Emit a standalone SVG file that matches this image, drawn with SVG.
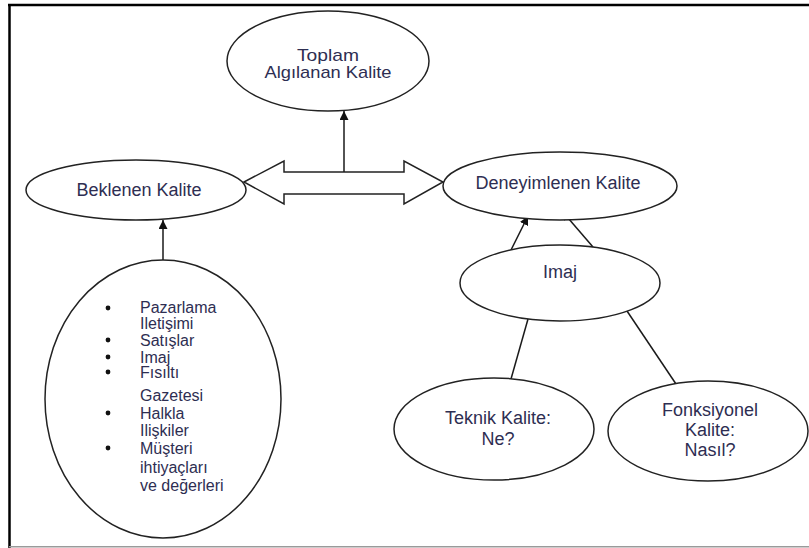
<svg xmlns="http://www.w3.org/2000/svg" width="809" height="548" viewBox="0 0 809 548">
  <style>
    .node ellipse { fill: #ffffff; stroke: #222222; stroke-width: 1.5; }
    .lbl { font-family: "Liberation Sans", Arial, sans-serif; font-size: 18px; fill: #2e2e52; text-anchor: middle; }
    .lbl2 { font-family: "Liberation Sans", Arial, sans-serif; font-size: 17px; fill: #2e2e52; text-anchor: middle; }
    .lst { font-family: "Liberation Sans", Arial, sans-serif; font-size: 16px; fill: #2e2e52; }
    .conn line { stroke: #1a1a1a; stroke-width: 1.5; }
    .dbl { fill: #ffffff; stroke: #222222; stroke-width: 1.5; stroke-linejoin: miter; }
  </style>
  <defs>
    <marker id="head" viewBox="0 0 10 10" refX="10" refY="5" markerWidth="9" markerHeight="9" markerUnits="userSpaceOnUse" orient="auto">
      <path d="M0,0 L10,5 L0,10 z" fill="#111111"/>
    </marker>
  </defs>

  <!-- frame -->
  <rect x="0" y="0" width="809" height="548" fill="#ffffff"/>
  <line x1="8" y1="5" x2="809" y2="5" stroke="#000000" stroke-width="2.5"/>
  <line x1="9.5" y1="4" x2="9.5" y2="548" stroke="#000000" stroke-width="2.5"/>
  <line x1="9" y1="546.8" x2="809" y2="546.8" stroke="#9a9a9a" stroke-width="1.6"/>

  <!-- connectors -->
  <g id="connectors" class="conn">
    <polygon class="dbl" points="244,182 284,161 284,172 404,172 404,161 443,182 404,204 404,194 284,194 284,204"/>
    <line x1="344" y1="172" x2="344" y2="111" marker-end="url(#head)"/>
    <line x1="163" y1="262" x2="163" y2="220" marker-end="url(#head)"/>
    <line x1="511" y1="250" x2="528" y2="216" marker-end="url(#head)"/>
    <line x1="593" y1="247" x2="562" y2="211" marker-end="url(#head)"/>
    <line x1="528" y1="319" x2="511" y2="379"/>
    <line x1="627" y1="311" x2="676" y2="384"/>
  </g>

  <g id="toplam" class="node">
    <ellipse cx="328" cy="61" rx="101" ry="50"/>
    <text class="lbl2" x="328" y="61" textLength="62" lengthAdjust="spacingAndGlyphs">Toplam</text>
    <text class="lbl2" x="328" y="78" textLength="127" lengthAdjust="spacingAndGlyphs">Algılanan Kalite</text>
  </g>

  <g id="beklenen" class="node">
    <ellipse cx="136" cy="190" rx="110" ry="30"/>
    <text class="lbl" x="139" y="196">Beklenen Kalite</text>
  </g>

  <g id="deneyimlenen" class="node">
    <ellipse cx="560" cy="186" rx="117" ry="34"/>
    <text class="lbl" x="558" y="189">Deneyimlenen Kalite</text>
  </g>

  <g id="imaj" class="node">
    <ellipse cx="560" cy="283" rx="100" ry="38"/>
    <text class="lbl" x="560" y="278">Imaj</text>
  </g>

  <g id="teknik" class="node">
    <ellipse cx="494" cy="429" rx="100" ry="51"/>
    <text class="lbl" x="498" y="424">Teknik Kalite:</text>
    <text class="lbl" x="498" y="445">Ne?</text>
  </g>

  <g id="fonksiyonel" class="node">
    <ellipse cx="708" cy="431" rx="100" ry="50"/>
    <text class="lbl" x="710" y="416">Fonksiyonel</text>
    <text class="lbl" x="710" y="436">Kalite:</text>
    <text class="lbl" x="710" y="456">Nasıl?</text>
  </g>

  <g id="etkenler" class="node">
    <ellipse cx="163" cy="399" rx="118" ry="139"/>
    <g fill="#111111">
      <circle cx="108" cy="308" r="2.4"/>
      <circle cx="108" cy="340" r="2.4"/>
      <circle cx="108" cy="357" r="2.4"/>
      <circle cx="108" cy="372" r="2.4"/>
      <circle cx="108" cy="413" r="2.4"/>
      <circle cx="108" cy="448" r="2.4"/>
    </g>
    <text class="lst" x="140" y="313">Pazarlama</text>
    <text class="lst" x="140" y="329">Iletişimi</text>
    <text class="lst" x="140" y="346">Satışlar</text>
    <text class="lst" x="140" y="363">Imaj</text>
    <text class="lst" x="140" y="378">Fısıltı</text>
    <text class="lst" x="140" y="401">Gazetesi</text>
    <text class="lst" x="140" y="419">Halkla</text>
    <text class="lst" x="140" y="436">Ilişkiler</text>
    <text class="lst" x="140" y="454">Müşteri</text>
    <text class="lst" x="140" y="473">ihtiyaçları</text>
    <text class="lst" x="140" y="491">ve değerleri</text>
  </g>
</svg>
